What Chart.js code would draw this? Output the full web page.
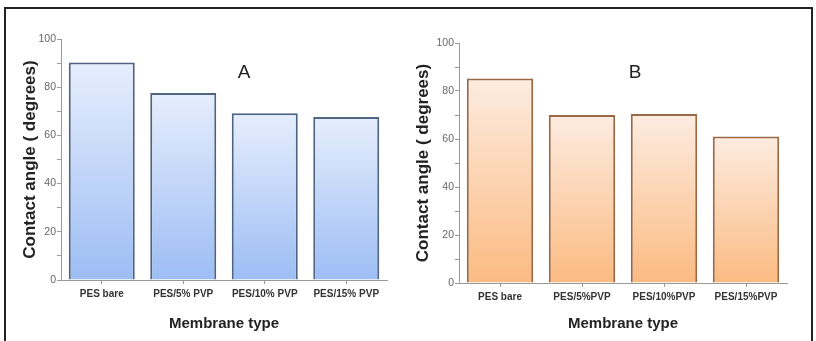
<!DOCTYPE html>
<html>
<head>
<meta charset="utf-8">
<script src="https://cdn.jsdelivr.net/npm/chart.js@4/dist/chart.umd.min.js"></script>
<style>
  html, body { margin:0; padding:0; background:#fff; }
  body { width:816px; height:341px; position:relative; overflow:hidden; font-family:"Liberation Sans", Arial, sans-serif; }
  #frame { position:absolute; left:4px; top:7px; width:805px; height:340px; border:2px solid #222; border-bottom:none; }
  canvas { position:absolute; top:0; }
  #cA { left:0; }
  #cB { left:410px; }
  .tag { position:absolute; font-size:19px; color:#222; transform:translate(-50%,-50%); }
</style>
</head>
<body>
<div id="frame"></div>
<canvas id="cA" width="400" height="341"></canvas>
<canvas id="cB" width="406" height="341"></canvas>
<div class="tag" style="left:244px; top:72px;">A</div>
<div class="tag" style="left:635px; top:72px;">B</div>
<script>
const categoriesA = ["PES bare", "PES/5% PVP", "PES/10% PVP", "PES/15% PVP"];
const categoriesB = ["PES bare", "PES/5%PVP", "PES/10%PVP", "PES/15%PVP"];
const valuesA = [90.3, 77.6, 69.2, 67.6];
const valuesB = [85.2, 70.0, 70.4, 61.0];
const yTicks = [0, 20, 40, 60, 80, 100];

function gradFill(top, bottom) {
  return (ctx) => {
    const chart = ctx.chart;
    if (!chart.chartArea || ctx.parsed === undefined) return bottom;
    const ys = chart.scales.y;
    const y0 = ys.getPixelForValue(0);
    const y1 = ys.getPixelForValue(ctx.parsed.y);
    const g = chart.ctx.createLinearGradient(0, y1, 0, y0);
    g.addColorStop(0, top);
    g.addColorStop(1, bottom);
    return g;
  };
}

function makeChart(id, cats, vals, colTop, colBot, border, geo) {
  return new Chart(document.getElementById(id), {
    type: 'bar',
    data: {
      labels: cats,
      datasets: [{
        data: vals,
        backgroundColor: gradFill(colTop, colBot),
        borderColor: border,
        borderWidth: 2,
        categoryPercentage: 0.81,
        barPercentage: 1.0
      }]
    },
    options: {
      responsive: false,
      animation: false,
      devicePixelRatio: 1,
      layout: { padding: { left: geo.padL, right: geo.padR, top: geo.padT, bottom: 0 } },
      plugins: { legend: { display: false }, tooltip: { enabled: false } },
      scales: {
        x: {
          afterFit: (s) => { s.height = geo.xH; },
          grid: { display: true, drawOnChartArea: false, offset: false, tickLength: 4, color: '#999' },
          border: { color: '#999', width: 1 },
          ticks: { color: '#333', padding: 4, maxRotation: 0, autoSkip: false,
                   font: { family: 'Liberation Sans', size: 10, weight: 'bold' } },
          title: { display: true, text: 'Membrane type', color: '#222',
                   padding: { top: 0, bottom: 8 },
                   font: { family: 'Liberation Sans', size: 15, weight: 'bold' } }
        },
        y: {
          min: 0, max: 100,
          afterFit: (s) => { s.width = geo.yW; },
          grid: { display: true, drawOnChartArea: false, tickLength: 4, color: '#999' },
          border: { color: '#999', width: 1 },
          ticks: { stepSize: 10, color: '#666', padding: 1,
                   font: { family: 'Liberation Sans', size: 10.5 },
                   callback: (v) => yTicks.includes(v) ? String(v) : '' },
          title: { display: true, text: 'Contact angle ( degrees)', color: '#222',
                   padding: { top: 0, bottom: 0 },
                   font: { family: 'Liberation Sans', size: 17, weight: 'bold' } }
        }
      }
    }
  });
}

makeChart('cA', categoriesA, valuesA, '#e6eefd', '#9dbdf4', '#4f6482',
          { padL: 20, padR: 13, padT: 39, xH: 61, yW: 41 });
makeChart('cB', categoriesB, valuesB, '#fdece0', '#fbbb82', '#9a6a46',
          { padL: 3, padR: 29, padT: 43, xH: 58, yW: 46 });
</script>
</body>
</html>
